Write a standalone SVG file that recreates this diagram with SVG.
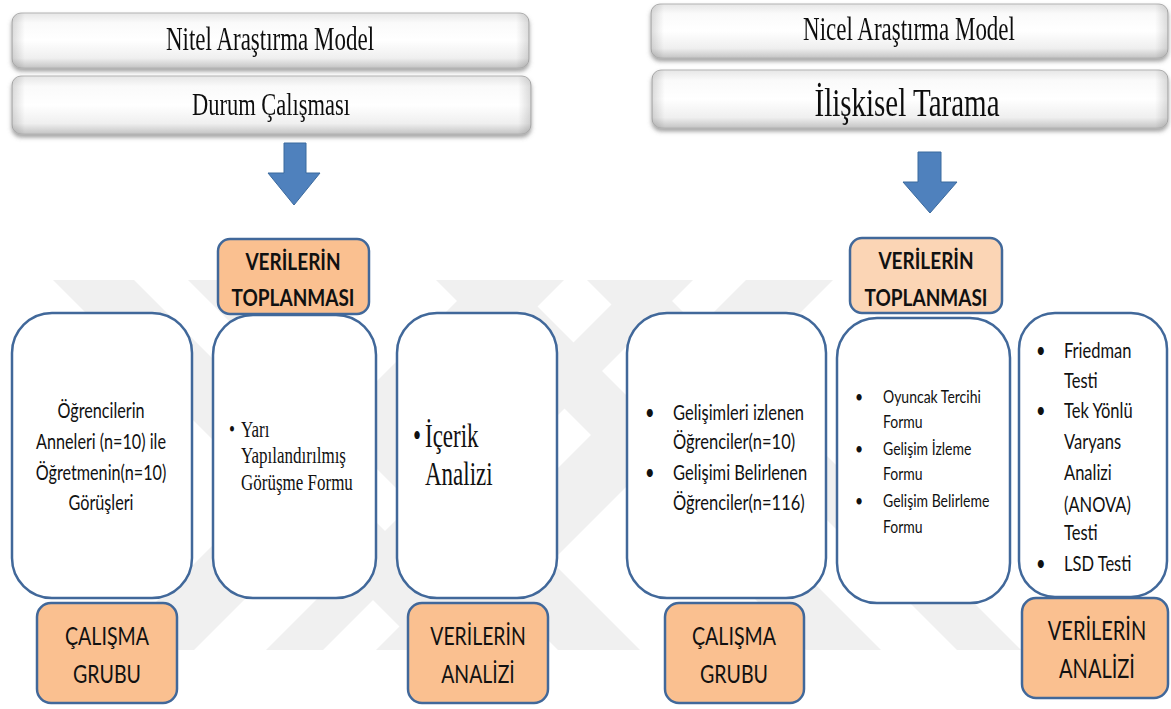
<svg xmlns="http://www.w3.org/2000/svg" width="1171" height="709" viewBox="0 0 1171 709">
<defs>
<style>
.hdr{font-family:"Liberation Serif","Times New Roman",serif;fill:#111}
.cal{font-family:Lato,"Liberation Sans",sans-serif;fill:#111}
.bold{font-weight:bold}
.box{fill:#fff;stroke:#41689A;stroke-width:2.5}
.org{fill:#FAC090;stroke:#41689A;stroke-width:2.5}
.org2{fill:#FBD5B5;stroke:#41689A;stroke-width:2.5}
.arrow{fill:#4F81BD;stroke:#3B6A9E;stroke-width:1}
.wm{fill:#F0F0F0}
.hbox{fill:url(#gv);stroke:#B4B4B4;stroke-width:1}
.hedge{fill:url(#gh)}
</style>
<linearGradient id="gv" x1="0" y1="0" x2="0" y2="1">
<stop offset="0" stop-color="#E6E6E6"/>
<stop offset="0.18" stop-color="#FAFAFA"/>
<stop offset="0.5" stop-color="#FFFFFF"/>
<stop offset="0.82" stop-color="#EFEFEF"/>
<stop offset="1" stop-color="#C4C4C4"/>
</linearGradient>
<linearGradient id="gh" x1="0" y1="0" x2="1" y2="0">
<stop offset="0" stop-color="#000" stop-opacity="0.14"/>
<stop offset="0.025" stop-color="#000" stop-opacity="0"/>
<stop offset="0.975" stop-color="#000" stop-opacity="0"/>
<stop offset="1" stop-color="#000" stop-opacity="0.14"/>
</linearGradient>
<filter id="sh" x="-5%" y="-20%" width="110%" height="150%">
<feDropShadow dx="0" dy="3" stdDeviation="2" flood-color="#666" flood-opacity="0.6"/>
</filter>
</defs>

<g id="watermark">
<polygon class="wm" points="53,280 134,280 504,650 423,650"/>
<polygon class="wm" points="188,280 270,280 640,650 558,650"/>
<polygon class="wm" points="478,280 564,280 194,650 108,650"/>
<polygon class="wm" points="636,280 693,280 323,650 266,650"/>
<polygon class="wm" points="746,280 833,280 463,650 376,650"/>
<polygon class="wm" points="436,280 511,280 881,650 806,650"/>
<polygon class="wm" points="587,280 651,280 1021,650 957,650"/>
</g>

<g id="nitel-model" filter="url(#sh)">
<rect class="hbox" x="12" y="13" width="517" height="55" rx="9"/>
<rect class="hedge" x="12" y="13" width="517" height="55" rx="9"/>
<text class="hdr" text-anchor="middle" font-size="23" transform="translate(270,50) scale(1,1.45)">Nitel Araştırma Model</text>
</g>
<g id="durum-calismasi" filter="url(#sh)">
<rect class="hbox" x="12" y="76" width="519" height="58" rx="9"/>
<rect class="hedge" x="12" y="76" width="519" height="58" rx="9"/>
<text class="hdr" text-anchor="middle" font-size="22.5" transform="translate(271,115) scale(1,1.45)">Durum Çalışması</text>
</g>

<g id="nicel-model" filter="url(#sh)">
<rect class="hbox" x="651" y="4" width="517" height="54" rx="9"/>
<rect class="hedge" x="651" y="4" width="517" height="54" rx="9"/>
<text class="hdr" text-anchor="middle" font-size="23" transform="translate(909,40) scale(1,1.45)">Nicel Araştırma Model</text>
</g>
<g id="iliskisel-tarama" filter="url(#sh)">
<rect class="hbox" x="652" y="70" width="516" height="58" rx="9"/>
<rect class="hedge" x="652" y="70" width="516" height="58" rx="9"/>
<text class="hdr" text-anchor="middle" font-size="29" transform="translate(907,116) scale(1,1.38)">İlişkisel Tarama</text>
</g>

<g id="connectors">
<polygon class="arrow" points="284,143 306,143 306,173 320,173 294,205 268,173 284,173"/>
<polygon class="arrow" points="918,152 941,152 941,182 957,182 930,213 903,182 918,182"/>
</g>

<g id="calisma-grubu-nitel-box">
<rect class="box" x="12" y="313" width="180" height="285" rx="40"/>
<g class="cal" font-size="16.2" text-anchor="middle">
<text transform="translate(101,418) scale(1,1.28)">Öğrencilerin</text>
<text transform="translate(101,449) scale(1,1.28)">Anneleri (n=10) ile</text>
<text transform="translate(101,480) scale(1,1.28)">Öğretmenin(n=10)</text>
<text transform="translate(101,510) scale(1,1.28)">Görüşleri</text>
</g>
</g>

<g id="toplama-nitel-box">
<rect class="box" x="213" y="315" width="163" height="283" rx="40"/>
<g class="hdr" font-size="17">
<text transform="translate(229,437) scale(1,1.35)">•</text>
<text transform="translate(241,437) scale(1,1.35)">Yarı</text>
<text transform="translate(241,463) scale(1,1.35)">Yapılandırılmış</text>
<text transform="translate(241,490) scale(1,1.35)">Görüşme Formu</text>
</g>
</g>

<g id="analiz-nitel-box">
<rect class="box" x="397" y="313" width="160" height="285" rx="40"/>
<g class="hdr" font-size="23">
<text transform="translate(413,447) scale(1,1.45)">•</text>
<text transform="translate(425,447) scale(1,1.45)">İçerik</text>
<text transform="translate(425,485) scale(1,1.45)">Analizi</text>
</g>
</g>

<g id="verilerin-toplanmasi-nitel">
<rect class="org" x="218" y="239" width="151" height="75" rx="12"/>
<g class="cal bold" font-size="19" text-anchor="middle">
<text transform="translate(293,270) scale(1,1.22)">VERİLERİN</text>
<text transform="translate(293,306) scale(1,1.22)">TOPLANMASI</text>
</g>
</g>

<g id="calisma-grubu-nitel">
<rect class="org" x="37" y="603" width="140" height="100" rx="14"/>
<g class="cal" font-size="19.6" text-anchor="middle">
<text transform="translate(107,645) scale(1,1.3)">ÇALIŞMA</text>
<text transform="translate(107,683) scale(1,1.3)">GRUBU</text>
</g>
</g>

<g id="verilerin-analizi-nitel">
<rect class="org" x="408" y="603" width="140" height="100" rx="14"/>
<g class="cal" font-size="19.4" text-anchor="middle">
<text transform="translate(478,645) scale(1,1.3)">VERİLERİN</text>
<text transform="translate(478,683) scale(1,1.3)">ANALİZİ</text>
</g>
</g>

<g id="calisma-grubu-nicel-box">
<rect class="box" x="627" y="313" width="199" height="285" rx="40"/>
<g class="cal" font-size="16.5">
<text transform="translate(645,420) scale(1,1.28)">•</text>
<text transform="translate(673,420) scale(1,1.28)">Gelişimleri izlenen</text>
<text transform="translate(673,449) scale(1,1.28)">Öğrenciler(n=10)</text>
<text transform="translate(645,480) scale(1,1.28)">•</text>
<text transform="translate(673,480) scale(1,1.28)">Gelişimi Belirlenen</text>
<text transform="translate(673,510) scale(1,1.28)">Öğrenciler(n=116)</text>
</g>
</g>

<g id="toplama-nicel-box">
<rect class="box" x="837" y="318" width="173" height="285" rx="40"/>
<g class="cal" font-size="14">
<text transform="translate(855,403) scale(1,1.28)">•</text>
<text transform="translate(883,403) scale(1,1.28)">Oyuncak Tercihi</text>
<text transform="translate(883,428) scale(1,1.28)">Formu</text>
<text transform="translate(855,455) scale(1,1.28)">•</text>
<text transform="translate(883,455) scale(1,1.28)">Gelişim İzleme</text>
<text transform="translate(883,480) scale(1,1.28)">Formu</text>
<text transform="translate(855,507) scale(1,1.28)">•</text>
<text transform="translate(883,507) scale(1,1.28)">Gelişim Belirleme</text>
<text transform="translate(883,533) scale(1,1.28)">Formu</text>
</g>
</g>

<g id="analiz-nicel-box">
<rect class="box" x="1019" y="313" width="148" height="284" rx="36"/>
<g class="cal" font-size="16.5">
<text transform="translate(1036,358) scale(1,1.28)">•</text>
<text transform="translate(1064,358) scale(1,1.28)">Friedman</text>
<text transform="translate(1064,388) scale(1,1.28)">Testi</text>
<text transform="translate(1036,418) scale(1,1.28)">•</text>
<text transform="translate(1064,418) scale(1,1.28)">Tek Yönlü</text>
<text transform="translate(1064,449) scale(1,1.28)">Varyans</text>
<text transform="translate(1064,480) scale(1,1.28)">Analizi</text>
<text transform="translate(1064,512) scale(1,1.28)">(ANOVA)</text>
<text transform="translate(1064,540) scale(1,1.28)">Testi</text>
<text transform="translate(1036,571) scale(1,1.28)">•</text>
<text transform="translate(1064,571) scale(1,1.28)">LSD Testi</text>
</g>
</g>

<g id="verilerin-toplanmasi-nicel">
<rect class="org2" x="850" y="238" width="152" height="75" rx="12"/>
<g class="cal bold" font-size="19" text-anchor="middle">
<text transform="translate(926,269) scale(1,1.22)">VERİLERİN</text>
<text transform="translate(926,306) scale(1,1.22)">TOPLANMASI</text>
</g>
</g>

<g id="calisma-grubu-nicel">
<rect class="org" x="665" y="603" width="139" height="100" rx="14"/>
<g class="cal" font-size="19.6" text-anchor="middle">
<text transform="translate(734,645) scale(1,1.3)">ÇALIŞMA</text>
<text transform="translate(734,683) scale(1,1.3)">GRUBU</text>
</g>
</g>

<g id="verilerin-analizi-nicel">
<rect class="org" x="1022" y="598" width="146" height="100" rx="14"/>
<g class="cal" font-size="20" text-anchor="middle">
<text transform="translate(1097,640) scale(1,1.38)">VERİLERİN</text>
<text transform="translate(1097,678) scale(1,1.38)">ANALİZİ</text>
</g>
</g>
</svg>
